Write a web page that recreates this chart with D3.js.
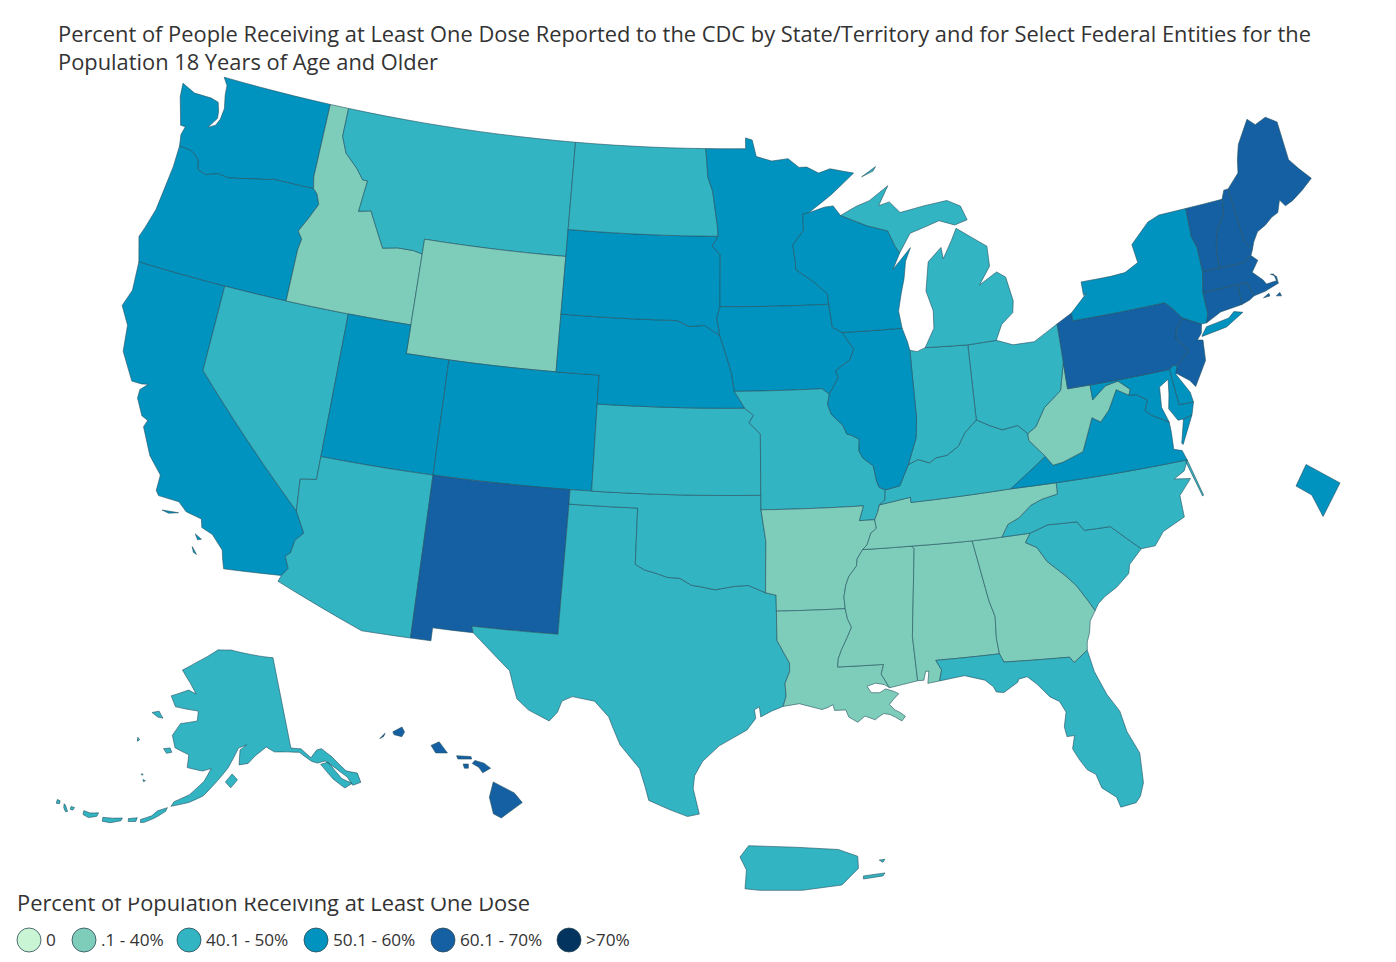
<!DOCTYPE html>
<html>
<head>
<meta charset="utf-8">
<script src="https://cdn.jsdelivr.net/npm/d3@7"></script>
<style>
  html, body { margin: 0; padding: 0; background: #fff; }
  text { font-family: "Open Sans", sans-serif; fill: #333; }
</style>
</head>
<body>
<div id="map"></div>
<script>
const titleLines = [
    "Percent of People Receiving at Least One Dose Reported to the CDC by State/Territory and for Select Federal Entities for the",
    "Population 18 Years of Age and Older"
];
const legendTitle = "Percent of Population Receiving at Least One Dose";
const legendLabels = ["0", ".1 - 40%", "40.1 - 50%", "50.1 - 60%", "60.1 - 70%", ">70%"];
const legendColors = ["#c9f5d5", "#7dcdba", "#33b4c3", "#0193bf", "#1560a3", "#03335f"];
const binBreaks = [0.1, 40.05, 50.05, 60.05, 70.05];

// estimated from the colour bins, only the bin can be read off the map
const lowStates = ["ID", "WY", "AR", "LA", "MS", "AL", "GA", "TN", "WV"];
const lowValues = [38, 36, 37, 36, 35, 35, 38, 38, 39];
const midStates = ["MT", "ND", "NV", "AZ", "TX", "OK", "KS", "MO", "IN", "OH", "KY", "MI", "NC", "SC", "FL", "AK", "PR"];
const midValues = [48, 47, 48, 46, 44, 46, 48, 45, 45, 48, 48, 49, 46, 43, 47, 49, 47];
const highStates = ["WA", "OR", "CA", "UT", "CO", "SD", "NE", "MN", "IA", "WI", "IL", "NY", "VA", "MD", "DE", "DC"];
const highValues = [56, 55, 57, 52, 55, 56, 55, 58, 56, 57, 54, 56, 54, 57, 53, 58];
const topStates = ["PA", "NJ", "CT", "RI", "MA", "VT", "NH", "ME", "NM", "HI"];
const topValues = [61, 62, 66, 68, 67, 68, 69, 68, 63, 62];

// shared borders, lon/lat
const idOr = [[-117.03,42],[-117.03,43.8],[-116.95,44.2],[-117.2,44.45],[-116.85,44.95],[-116.5,45.5],[-116.7,45.85],[-116.92,46]];
const columbia = [[-123.95,46.25],[-123.4,46.22],[-123.15,46.15],[-122.85,45.95],[-122.75,45.65],[-122.3,45.55],[-121.7,45.7],[-121.2,45.65],[-120.65,45.73],[-119.9,45.85],[-119.3,45.93],[-118.98,46],[-116.92,46]];
const idMt = [[-116.05,49],[-116.05,48],[-115.7,47.45],[-115,47],[-114.6,46.65],[-114.35,46.65],[-114.5,45.55],[-113.9,45.65],[-113.45,45.05],[-113,44.45],[-112.3,44.55],[-111.5,44.55],[-111.05,44.48]];
const colorado = [[-114.63,35],[-114.14,34.3],[-114.45,34],[-114.53,33.55],[-114.72,33.4],[-114.5,33],[-114.72,32.72]];
const redRiver = [[-100,34.56],[-99.6,34.38],[-99.2,34.3],[-98.6,34.15],[-98.1,34.13],[-97.6,33.9],[-97.2,33.85],[-96.6,33.75],[-95.8,33.87],[-95.2,33.9],[-94.48,33.64]];
const moRiverLow = [[-96.45,42.5],[-96.1,41.7],[-95.9,41.2],[-95.77,40.58]];
const mnWi = [[-92,46.7],[-92.3,46.66],[-92.29,46.1],[-92.85,45.6],[-92.75,45],[-92.75,44.75],[-91.9,44.3],[-91.25,43.85],[-91.22,43.5]];
const iaWi = [[-91.22,43.5],[-91.1,42.7],[-90.65,42.5]];
const iaIl = [[-90.65,42.5],[-90.15,41.9],[-90.35,41.55],[-91.05,41.2],[-90.95,40.95],[-91.4,40.4]];
const moIl = [[-91.4,40.4],[-91.5,40.05],[-91.35,39.7],[-90.85,39.3],[-90.7,39],[-90.5,38.95],[-90.15,38.8],[-90.2,38.4],[-90.05,38.15],[-89.6,37.85],[-89.5,37.3],[-89.4,37.1],[-89.15,37]];
const moKy = [[-89.15,37],[-89.2,36.65],[-89.45,36.5],[-89.55,36.25],[-89.7,36]];
const arTn = [[-89.7,36],[-89.65,35.7],[-89.9,35.55],[-90.1,35.15],[-90.3,35]];
const arMs = [[-90.3,35],[-90.55,34.7],[-90.6,34.45],[-90.95,34.1],[-91.1,33.8],[-91.2,33.4],[-91.17,33]];
const laMs = [[-91.17,33],[-91.1,32.65],[-90.95,32.35],[-91.15,32],[-91.4,31.6],[-91.55,31.3],[-91.6,31]];
const ilKy = [[-89.15,37],[-88.5,37.1],[-88.05,37.8]];
const inKy = [[-88.05,37.8],[-87.6,37.95],[-87.1,37.8],[-86.8,37.95],[-86.3,38],[-85.75,38.27],[-85.4,38.7],[-84.82,39.1]];
const ohKy = [[-84.82,39.1],[-84.25,38.85],[-83.7,38.65],[-83,38.73],[-82.6,38.4]];
const ohWv = [[-82.6,38.4],[-82.2,38.6],[-81.7,39.2],[-80.85,39.7],[-80.52,40.64]];
const ilIn = [[-87.53,41.72],[-87.5,39.35],[-87.6,38.7],[-88.05,37.8]];
const kyWv = [[-82.6,38.4],[-82.6,38.17],[-81.97,37.54]];
const vaWv = [[-81.97,37.54],[-81.7,37.2],[-81.25,37.25],[-80.3,37.5],[-79.65,38.6],[-79.3,38.4],[-78.85,38.75],[-78.35,39.4],[-77.83,39.13]];
const mdWv = [[-77.83,39.13],[-77.72,39.32],[-78.2,39.68],[-78.8,39.6],[-79.48,39.2],[-79.48,39.72]];
const potomac = [[-77.83,39.13],[-77.5,39.1],[-77.05,38.85],[-77.25,38.5],[-77,38.3],[-76.3,37.95]];
const ncTn = [[-84.32,34.99],[-84,35.4],[-83.5,35.57],[-82.9,35.95],[-82.4,36.1],[-81.7,36.2],[-81.68,36.59]];
const ncSc = [[-83.1,35],[-82.3,35.2],[-81.05,35.15],[-80.8,34.82],[-79.67,34.8],[-78.55,33.86]];
const savannah = [[-83.1,35],[-83.35,34.7],[-82.9,34.48],[-82.55,33.95],[-81.9,33.4],[-81.5,33],[-81.1,32.4],[-80.88,32.03]];
const gaAl = [[-85.6,34.98],[-85.18,32.87],[-85,32.3],[-85.05,31.55],[-85,31]];
const msAl = [[-88.2,35],[-88.1,34.9],[-88.47,31.9],[-88.4,30.35]];
const gaFl = [[-85,31],[-84.86,30.7],[-82.2,30.57],[-82.05,30.36],[-81.45,30.72]];
const vtNh = [[-71.5,45.01],[-71.6,44.5],[-72.05,44.1],[-72.3,43.6],[-72.4,43.3],[-72.45,42.73]];
const nyVt = [[-73.27,42.75],[-73.25,43.6],[-73.4,44],[-73.34,45.01]];
const paNj = [[-74.7,41.36],[-75.1,41],[-75.2,40.7],[-74.75,40.2],[-75.4,39.8]];
const r = c => c.slice().reverse();

const stateOutlines = {
    WA: [[[-117.03,49],[-122.76,49],[-122.5,48.75],[-122.45,48.4],[-122.3,47.95],[-122.35,47.55],[-122.5,47.3],[-122.85,47.15],[-122.5,47.55],[-122.55,47.8],[-122.7,48.1],[-123.1,48.17],[-124,48.17],[-124.72,48.38],[-124.65,47.9],[-124.2,46.95],[-123.95,46.95],[-124.05,46.65],...columbia,[-117.04,46.4]]],
    OR: [[...columbia,...r(idOr),[-120,42],[-124.2,42],[-124.55,42.84],[-124.4,43.2],[-124.15,43.9],[-124.05,44.7],[-123.95,45.5]]],
    CA: [[[-124.2,42],[-120,42],[-120,39],...colorado,[-117.12,32.53],[-117.25,32.85],[-117.35,33.15],[-117.9,33.6],[-118.4,33.75],[-118.5,34.03],[-119.2,34.15],[-119.6,34.42],[-120.5,34.45],[-120.65,34.6],[-120.65,35.15],[-121.3,35.7],[-121.9,36.6],[-121.8,36.85],[-122.1,36.95],[-122.5,37.5],[-122.5,37.8],[-122.2,38.05],[-122.5,38],[-122.95,38],[-123.7,38.9],[-123.85,39.8],[-124.35,40.4],[-124.1,41]],
        [[-120.2,34],[-119.5,34.05],[-119.9,33.95]], [[-118.6,33.48],[-118.3,33.35],[-118.45,33.3]], [[-118.6,33.03],[-118.35,32.8],[-118.5,32.85]]],
    NV: [[[-120,42],[-114.04,42],[-114.04,36.2],[-114.74,36.1],[-114.63,35],[-120,39]]],
    ID: [[[-117.03,49],...idMt,[-111.05,42],...idOr,[-117.04,46.4]]],
    MT: [[[-116.05,49],[-104.05,49],[-104.05,45],[-111.05,45],...r(idMt)]],
    WY: [[[-111.05,45],[-104.05,45],[-104.05,41],[-111.05,41]]],
    UT: [[[-114.04,42],[-111.05,42],[-111.05,41],[-109.05,41],[-109.05,37],[-114.04,37]]],
    CO: [[[-109.05,41],[-102.05,41],[-102.05,37],[-109.05,37]]],
    AZ: [[[-114.04,37],[-109.05,37],[-109.05,31.33],[-111.07,31.33],[-114.81,32.5],...r(colorado),[-114.74,36.1],[-114.04,36.2]]],
    NM: [[[-109.05,37],[-103,37],[-103,36.5],[-103.06,32],[-106.62,32],[-106.53,31.78],[-108.21,31.78],[-108.21,31.33],[-109.05,31.33]]],
    TX: [[[-103,36.5],[-100,36.5],...redRiver,[-94.04,33.55],[-94.04,33],[-94.04,31.99],[-93.8,31.6],[-93.55,31.2],[-93.55,30.9],[-93.75,30.5],[-93.72,30.05],[-93.85,29.7],[-94.3,29.55],[-94.75,29.35],[-94.8,29.7],[-95,29.6],[-94.95,29.3],[-95.3,28.9],[-96,28.55],[-96.4,28.35],[-97.05,27.8],[-97.35,27.3],[-97.4,26.85],[-97.15,25.96],[-97.6,25.87],[-98.3,26.1],[-99.1,26.4],[-99.25,26.85],[-99.5,27.5],[-100.3,28.3],[-100.65,28.95],[-100.8,29.25],[-101.4,29.77],[-102.3,29.88],[-102.7,29.7],[-102.85,29.3],[-103.15,28.98],[-104,29.3],[-104.5,29.65],[-104.7,30.1],[-104.9,30.6],[-106,31.4],[-106.53,31.78],[-106.62,32],[-103.06,32]]],
    OK: [[[-103,37],[-94.62,37],[-94.62,36.5],[-94.43,35.4],...r(redRiver),[-100,36.5],[-103,36.5]]],
    KS: [[[-102.05,40],[-95.3,40],[-94.9,39.75],[-95.1,39.5],[-94.6,39.1],[-94.62,37],[-102.05,37]]],
    NE: [[[-104.05,43],[-98.5,43],[-97.9,42.8],[-97.2,42.85],...moRiverLow,[-95.3,40],[-102.05,40],[-102.05,41],[-104.05,41]]],
    SD: [[[-104.05,45.94],[-96.56,45.94],[-96.85,45.6],[-96.45,45.3],[-96.45,43.5],[-96.6,43.1],[-96.45,42.5],[-97.2,42.85],[-97.9,42.8],[-98.5,43],[-104.05,43]]],
    ND: [[[-104.05,49],[-97.23,49],[-97.1,48],[-96.85,47.5],[-96.6,46.3],[-96.56,45.94],[-104.05,45.94]]],
    MN: [[[-97.23,49],[-95.15,49],[-95.15,49.38],[-94.8,49.3],[-94.6,48.72],[-93.8,48.55],[-92.95,48.62],[-92.4,48.3],[-92,48.3],[-91.4,48.07],[-90.8,48.2],[-89.6,48],[-90.8,47.3],...mnWi,[-96.45,43.5],[-96.45,45.3],[-96.85,45.6],[-96.56,45.94],[-96.6,46.3],[-96.85,47.5],[-97.1,48]]],
    IA: [[[-96.45,43.5],...iaWi,...iaIl.slice(1),[-91.73,40.6],...r(moRiverLow),[-96.6,43.1]]],
    MO: [[[-95.77,40.58],[-91.73,40.6],...moIl,...moKy.slice(1),[-90.37,36],[-90.15,36.5],[-94.62,36.5],[-94.62,37],[-94.6,39.1],[-95.1,39.5],[-94.9,39.75],[-95.3,40]]],
    AR: [[[-94.62,36.5],[-90.15,36.5],[-90.37,36],...arTn,...arMs.slice(1),[-94.04,33],[-94.04,33.55],[-94.48,33.64],[-94.43,35.4]]],
    LA: [[[-94.04,33],...laMs,[-89.73,31],[-89.85,30.67],[-89.55,30.18],[-89.75,30.3],[-90.1,30.37],[-90.45,30.28],[-90.3,30.05],[-89.95,30.03],[-89.72,30.15],[-89.4,30.05],[-89.2,29.95],[-89.45,29.75],[-89.6,29.6],[-89.4,29.4],[-89.2,29.3],[-89,29.15],[-89.15,29],[-89.4,29.15],[-89.6,29.25],[-89.85,29.3],[-90.05,29.2],[-90.2,29.1],[-90.6,29.25],[-90.9,29.05],[-91.25,29.25],[-91.35,29.5],[-91.8,29.5],[-91.85,29.7],[-92.1,29.6],[-92.3,29.55],[-93.2,29.78],[-93.85,29.7],[-93.72,30.05],[-93.75,30.5],[-93.55,30.9],[-93.55,31.2],[-93.8,31.6],[-94.04,31.99]]],
    MS: [[...r(laMs),...r(arMs).slice(1),[-88.2,35],...msAl.slice(1),[-89.55,30.18],[-89.85,30.67],[-89.73,31]]],
    AL: [[...msAl,[-88.15,30.35],[-88.05,30.65],[-87.92,30.65],[-88,30.23],[-87.52,30.28],[-87.4,30.65],[-87.6,31],...r(gaAl),[-88.2,35]]],
    GA: [[...gaAl,...gaFl.slice(1),[-81.4,31],[-81.25,31.3],[-81.15,31.7],...r(savannah)]],
    FL: [[[-87.6,31],...gaFl,[-81.3,29.95],[-80.95,29.1],[-80.55,28.45],[-80.4,27.7],[-80.05,26.9],[-80.1,25.85],[-80.3,25.4],[-80.5,25.2],[-81.1,25.13],[-81.2,25.5],[-81.7,25.9],[-81.85,26.4],[-82.15,26.6],[-82.4,27],[-82.6,27.4],[-82.45,27.85],[-82.75,27.85],[-82.8,28.2],[-82.65,28.7],[-82.85,29.1],[-83.2,29.3],[-83.65,29.8],[-84,30.1],[-84.35,30.05],[-84.4,29.95],[-85,29.65],[-85.3,29.7],[-85.4,29.9],[-85.7,30.15],[-86.5,30.38],[-87.52,30.28],[-87.4,30.65]]],
    SC: [[...ncSc,[-79.15,33.4],[-79.25,33.1],[-79.85,32.7],[-80.4,32.45],[-80.7,32.25],...r(savannah)]],
    NC: [[...ncTn,[-75.87,36.55],[-76.1,36.2],[-76.6,36],[-75.9,35.9],[-76.5,35.4],[-76.5,34.95],[-76.5,34.65],[-77.5,34.3],[-77.95,33.87],...r(ncSc),[-83.1,35]],
        [[-75.87,36.55],[-75.5,35.25],[-75.55,35.22],[-75.95,36.5]]],
    TN: [[[-90.3,35],[-88.2,35],[-85.6,34.98],...ncTn,[-83.68,36.6],[-88.07,36.5],[-88.07,36.68],[-89.45,36.5],[-89.55,36.25],...arTn]],
    KY: [[[-89.45,36.5],[-88.07,36.68],[-88.07,36.5],[-83.68,36.6],...r(kyWv),...r(ohKy),...r(inKy),...r(ilKy),[-89.2,36.65]]],
    VA: [[[-83.68,36.6],[-81.68,36.59],[-75.87,36.55],[-76,36.9],[-76.35,37],[-76.3,37.6],...r(potomac),...r(vaWv)],
        [[-75.95,37.15],[-75.65,37.95],[-75.24,38.03],[-75.9,37.1]]],
    WV: [[...kyWv,...vaWv.slice(1),...mdWv.slice(1),[-80.52,39.72],...r(ohWv)]],
    MD: [[...mdWv,[-75.79,39.72],[-75.7,38.46],[-75.05,38.45],[-75.24,38.03],[-75.65,37.95],[-75.9,37.95],[-76.2,38.4],[-76.05,38.9],[-75.95,39.4],[-76.4,39.2],[-76.5,38.5],[-76.3,37.95],...r(potomac).slice(1)]],
    DE: [[[-75.79,39.72],[-75.6,39.83],[-75.4,39.8],[-75.55,39.5],[-75.1,38.8],[-75.05,38.45],[-75.7,38.46]]],
    PA: [[[-80.52,41.98],[-79.76,42.27],[-79.76,42],[-75.35,42],[-75.05,41.75],...paNj,[-75.6,39.83],[-75.79,39.72],[-80.52,39.72]]],
    NJ: [[[-74.7,41.36],[-73.9,41],[-74,40.7],[-74.25,40.5],[-74,40.45],[-74.1,39.75],[-74.8,38.95],[-75,39.2],[-75.55,39.55],...r(paNj)]],
    NY: [[[-79.76,42.27],[-79.76,42],[-75.35,42],[-75.05,41.75],[-74.7,41.36],[-73.9,41],[-73.65,41],[-73.5,41.3],[-73.49,42.05],...nyVt,[-74.7,45],[-75.3,44.85],[-76.3,44.2],[-76.2,43.55],[-76.9,43.3],[-77.6,43.27],[-79.05,43.27],[-79.05,42.8],[-78.9,42.85]],
        [[-74,40.6],[-73.7,40.87],[-72.6,40.98],[-72.3,41.15],[-71.9,41.05],[-72.8,40.7],[-74,40.58]]],
    CT: [[[-73.49,42.05],[-71.8,42.02],[-71.85,41.32],[-72.9,41.25],[-73.65,41],[-73.5,41.3]]],
    RI: [[[-71.8,42.02],[-71.38,42.02],[-71.2,41.5],[-71.45,41.4],[-71.85,41.32]]],
    MA: [[[-73.49,42.05],[-73.27,42.75],[-72.45,42.73],[-71.3,42.7],[-70.85,42.87],[-70.6,42.65],[-71,42.3],[-70.6,41.95],[-70.5,41.78],[-70,41.8],[-70.05,42.05],[-70.2,42.07],[-69.95,41.95],[-69.95,41.7],[-70.65,41.55],[-71.2,41.5],[-71.38,42.02],[-71.8,42.02]],
        [[-70.8,41.35],[-70.5,41.45],[-70.5,41.35]], [[-70.2,41.3],[-70,41.38],[-69.97,41.25]]],
    VT: [[...nyVt,...vtNh]],
    NH: [[...vtNh,[-71.3,42.7],[-70.85,42.87],[-70.7,43.07],[-70.98,43.4],[-71.08,45.3],[-71.3,45.3]]],
    ME: [[[-71.08,45.3],[-70.4,45.75],[-70.25,46.2],[-70,46.7],[-69.23,47.46],[-68.9,47.2],[-68.3,47.35],[-67.8,47.07],[-67.8,45.7],[-67.45,45.3],[-67,44.85],[-67.6,44.55],[-68.2,44.3],[-68.6,44.2],[-68.8,44.45],[-69.05,44.05],[-69.4,43.95],[-69.8,43.75],[-70.25,43.6],[-70.55,43.3],[-70.7,43.07],[-70.98,43.4]]],
    OH: [[...ohKy,...ohWv.slice(1),[-80.52,41.98],[-81.7,41.5],[-82.7,41.5],[-83.45,41.73],[-84.8,41.7]]],
    IN: [[[-87.53,41.72],[-87.2,41.65],[-86.8,41.76],[-84.8,41.7],[-84.82,39.1],...r(inKy).slice(1),...r(ilIn).slice(1)]],
    IL: [[...ilIn,...r(ilKy).slice(1),...r(moIl).slice(1),...r(iaIl).slice(1),[-87.8,42.5],[-87.6,42]]],
    WI: [[[-90.65,42.5],[-87.8,42.5],[-87.9,43.1],[-87.7,43.7],[-87.5,44.2],[-87.35,44.8],[-87.05,45.25],[-87.6,44.85],[-88,44.55],[-87.6,45.1],[-87.8,45.35],[-88.1,45.9],[-89.1,46.13],[-90.4,46.55],[-90.75,46.9],[-91.2,46.87],...mnWi,[-91.1,42.7]]],
    MI: [[[-90.4,46.55],[-89.1,46.13],[-88.1,45.9],[-87.8,45.35],[-87.6,45.1],[-87,45.75],[-86.3,45.9],[-85.5,46.08],[-84.75,45.87],[-84.1,46],[-84.35,46.5],[-85,46.75],[-86.2,46.65],[-87.4,46.5],[-87.9,46.9],[-88.45,46.8],[-87.9,47.47],[-88.9,47],[-89.6,46.83]],
        [[-86.8,41.76],[-84.8,41.7],[-83.45,41.73],[-83.1,42.25],[-82.5,42.6],[-82.4,43],[-82.6,43.85],[-83,44.07],[-83.9,43.7],[-83.3,44.3],[-83.3,45],[-84.7,45.75],[-85,45.35],[-85.5,44.75],[-85.55,45.15],[-86.25,44.7],[-86.5,43.7],[-86.25,43],[-86.3,42.4]],
        [[-89.2,47.85],[-88.45,48.17],[-88.6,48.02]]]
};
const alaskaOutline = [
    [[-141,69.65],[-141,60.3],[-139,60],[-137.5,58.9],[-136,59.5],[-135,59.5],[-133.5,58.4],[-131.8,56.6],[-130,56],[-130,55],[-131.5,55],[-132,56],[-133.5,57.2],[-135,58.2],[-136.5,58.2],[-137.5,58.5],[-139.5,59.7],[-142,60],[-144.5,60.2],[-146,60.8],[-148.5,60],[-150,59.3],[-151.8,59.2],[-151.5,60.7],[-150,61.2],[-151.8,60.9],[-153,59.8],[-154,58.9],[-156,57.6],[-158.5,56],[-161,55.2],[-164,54.6],[-163.6,55.1],[-161,56],[-158.5,57.5],[-157.3,58.8],[-159,58.5],[-162,58.7],[-162,60],[-165,60.5],[-166,61.7],[-164.7,63],[-161,63.5],[-161,64.5],[-166.5,64.6],[-168,65.6],[-164,66.5],[-162,66.2],[-163.8,67.2],[-166.5,68.4],[-163,69.4],[-157,70.9],[-153,70.9],[-148,70.4]],
    [[-136,58],[-134.5,58],[-133,56],[-131.5,55.2],[-133,55],[-134.5,56.2]],
    [[-154.5,57.5],[-153.2,58.3],[-152.2,57.7],[-153.5,56.9]],
    [[-171.5,63.5],[-170,63.8],[-168.8,63.2],[-170,63.2]],
    [[-167.3,60.2],[-166,60.4],[-165.5,60],[-166.5,59.8]],
    [[-173,60.7],[-172.5,60.5],[-172.9,60.3]],
    [[-170.5,57.2],[-170.1,57.25],[-170.2,57.1]],
    [[-169.9,56.7],[-169.4,56.65],[-169.7,56.5]],
    [[-182.8,51.9],[-182.3,51.9],[-182.2,51.6],[-182.7,51.5]],
    [[-181.5,51.8],[-181.2,51.7],[-180.5,51.2],[-180.8,51.1],[-181.3,51.4]],
    [[-180.3,51.8],[-179.7,51.85],[-179.8,51.55],[-180.2,51.5]],
    [[-178.1,51.9],[-177,51.9],[-175.7,52.2],[-175.8,51.8],[-177,51.4],[-178,51.5]],
    [[-174.8,51.9],[-173.3,52.1],[-171.7,52.4],[-171.8,52.1],[-173.4,51.6],[-174.7,51.5]],
    [[-170.7,52.5],[-169.3,52.8],[-169.4,52.4],[-170.6,52.2]],
    [[-168.7,52.7],[-167,53.3],[-166.2,53.9],[-164.6,54.4],[-164.8,54],[-166.3,53.2],[-168,52.5],[-168.6,52.4]]
];
const hawaiiOutline = [
    [[-155.9,20.25],[-155.1,19.85],[-154.8,19.5],[-155.6,18.95],[-155.9,19.1],[-156.05,19.7]],
    [[-156.7,20.92],[-156.6,21.03],[-156.25,20.93],[-156,20.75],[-156.3,20.58],[-156.45,20.78]],
    [[-157.3,21.2],[-156.75,21.17],[-156.72,21.08],[-157.25,21.08]],
    [[-157.05,20.9],[-156.85,20.9],[-156.85,20.75],[-157,20.75]],
    [[-158.28,21.57],[-157.97,21.7],[-157.65,21.3],[-158.1,21.3]],
    [[-159.75,22.05],[-159.4,22.23],[-159.3,22.05],[-159.4,21.88],[-159.7,21.95]],
    [[-160.25,21.8],[-160.05,22],[-160.1,21.88]]
];
const puertoRicoOutline = [
    [[-67.27,18.37],[-67.15,18.52],[-66.5,18.5],[-65.9,18.47],[-65.63,18.38],[-65.62,18.22],[-65.85,18],[-66.4,17.93],[-67,17.93],[-67.2,17.95],[-67.18,18.2]],
    [[-65.55,18.12],[-65.25,18.16],[-65.28,18.12],[-65.55,18.08]],
    [[-65.33,18.33],[-65.25,18.34],[-65.28,18.3]]
];
const dcOutline = [[[-77.12,38.93],[-77.04,38.995],[-76.91,38.89],[-77.04,38.79],[-77.06,38.88]]];

const width = 1396, height = 962;
const svg = d3.select("#map").append("svg").attr("width", width).attr("height", height);

svg.selectAll("text.title").data(titleLines).enter().append("text")
    .attr("class", "title")
    .attr("x", 58)
    .attr("y", (d, i) => 42 + i * 28)
    .style("font-size", "21.85px")
    .text(d => d);

// one projection per inset, each path goes through planar points so long borders stay on their parallel
function planar(proj) {
    return d3.geoPath(d3.geoTransform({
        point(x, y) {
            const p = proj([x, y]);
            this.stream.point(p[0], p[1]);
        }
    }));
}
function fitted(proj, rings, box) {
    return proj.fitExtent(box, { type: "MultiPoint", coordinates: rings.flat() });
}
// add points along long straight edges so they follow the conic curve
function densify(ring) {
    const out = [];
    ring.concat([ring[0]]).forEach((pt, i, all) => {
        if (i === 0) return;
        const prev = all[i - 1];
        const n = Math.max(Math.ceil(Math.abs(pt[0] - prev[0])), 1);
        for (let k = 0; k < n; k++) {
            out.push([prev[0] + (pt[0] - prev[0]) * k / n, prev[1] + (pt[1] - prev[1]) * k / n]);
        }
    });
    out.push(out[0]);
    return out;
}
const toGeo = rings => ({ type: "MultiPolygon", coordinates: rings.map(ring => [densify(ring)]) });

const lower48 = d3.geoAlbers().scale(1650).translate([716, 446]);
const alaska = d3.geoConicEqualArea().rotate([154, 0]).center([0, 58.5]).parallels([55, 65]).scale(565).translate([228, 772]);
const hawaii = fitted(d3.geoConicEqualArea().rotate([157, 0]).center([0, 20]).parallels([8, 18]), hawaiiOutline, [[377, 727], [525, 818]]);
const puertoRico = fitted(d3.geoMercator(), puertoRicoOutline, [[740, 843], [885, 893]]);
const dcInset = fitted(d3.geoAlbers().rotate([107, 0]), dcOutline, [[1296, 459], [1340, 522]]);

const color = d3.scaleThreshold().domain(binBreaks).range(legendColors);
const valueOf = new Map();
[[lowStates, lowValues], [midStates, midValues], [highStates, highValues], [topStates, topValues]].forEach(([names, values]) => {
    names.forEach((name, i) => valueOf.set(name, values[i]));
});

const features = Object.keys(stateOutlines).map(id => ({ id, rings: stateOutlines[id], path: planar(lower48) }));
features.push({ id: "AK", rings: alaskaOutline, path: planar(alaska) });
features.push({ id: "HI", rings: hawaiiOutline, path: planar(hawaii) });
features.push({ id: "PR", rings: puertoRicoOutline, path: planar(puertoRico) });
features.push({ id: "DC", rings: dcOutline, path: planar(dcInset) });

svg.append("g").selectAll("path").data(features).enter().append("path")
    .attr("d", d => d.path(toGeo(d.rings)))
    .attr("fill", d => color(valueOf.get(d.id)))
    .attr("stroke", "#24505f")
    .attr("stroke-width", 0.6)
    .attr("stroke-linejoin", "round");

// legend
svg.append("text").attr("x", 17).attr("y", 911).style("font-size", "21.85px").text(legendTitle);
// the reference clips the top of this title after the first word
svg.append("rect").attr("x", 72).attr("y", 888).attr("width", 470).attr("height", 9.8).attr("fill", "#fff");
const legendXs = d3.scaleOrdinal().domain(legendLabels).range([29, 84, 189, 316, 443, 569]);
const item = svg.append("g").selectAll("g").data(legendLabels).enter().append("g")
    .attr("transform", d => `translate(${legendXs(d)},940)`);
item.append("circle").attr("r", 12)
    .attr("fill", (d, i) => legendColors[i])
    .attr("stroke", "#2b4a55").attr("stroke-width", 0.8);
item.append("text").attr("x", 17).attr("y", 6).style("font-size", "17.2px").text(d => d);
</script>
</body>
</html>
